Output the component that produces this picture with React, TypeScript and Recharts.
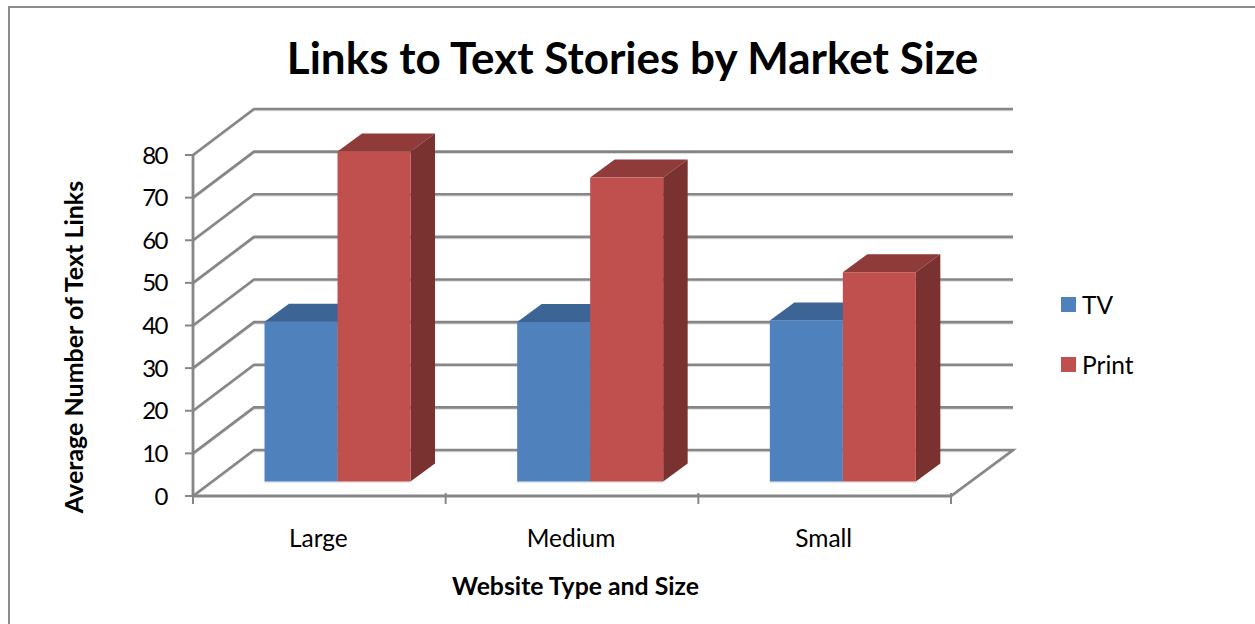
import { BarChart, Bar, XAxis, YAxis, CartesianGrid, Legend } from 'recharts';

const categories = ['Large', 'Medium', 'Small'];
const tvValues = [37.5, 37.4, 37.8];
const printValues = [77.4, 71.3, 49.1];
const yTicks = [0, 10, 20, 30, 40, 50, 60, 70, 80];

const chartData = categories.map((name, i) => ({ name, TV: tvValues[i], Print: printValues[i] }));

const FONT = 'Lato, sans-serif';
const LINE = '#868686';
const SHADOW = '#dcdcdc';

// depth of the back wall and of the bars, relative to the front plane
const WALL_DX = 61;
const WALL_DY = -46;
const BAR_SHIFT_X = 18.5;
const BAR_SHIFT_Y = -14.5;
const BAR_DX = 24.5;
const BAR_DY = -18;

const sideColors: Record<string, { top: string; side: string }> = {
  '#4f81bd': { top: '#3c6494', side: '#345a86' },
  '#c0504d': { top: '#8f3b39', side: '#7a3230' },
};

const Bar3D = (props: any) => {
  const { x, y, width, height, fill } = props;
  const left = x + BAR_SHIFT_X;
  const top = y + BAR_SHIFT_Y;
  const right = left + width;
  const bottom = top + height;
  const { top: topColor, side } = sideColors[fill];
  return (
    <g>
      <rect x={left} y={bottom} width={width} height={1.5} fill="#e4e4ea" />
      <polygon
        points={`${left},${top} ${left + BAR_DX},${top + BAR_DY} ${right + BAR_DX},${top + BAR_DY} ${right},${top}`}
        fill={topColor}
      />
      <polygon
        points={`${right},${top} ${right + BAR_DX},${top + BAR_DY} ${right + BAR_DX},${bottom + BAR_DY} ${right},${bottom}`}
        fill={side}
      />
      <rect x={left} y={top} width={width} height={height} fill={fill} />
    </g>
  );
};

// each grid line runs up the side wall, then across the back wall
const wallLine = (props: any) => {
  const { x1, y1, x2, y2, index } = props;
  const backLeft = x1 + WALL_DX;
  const backRight = x2 + WALL_DX + 1;
  const backY = y1 + WALL_DY;
  const isFloor = y1 >= 495;
  const path = `M${x1},${y1} L${backLeft},${backY} L${backRight},${backY}` + (isFloor ? ` L${x2},${y2}` : '');
  return (
    <g key={`wall-${index}`}>
      <path d={path} transform="translate(0,1.5)" fill="none" stroke={SHADOW} strokeWidth={1.5} />
      <path d={path} fill="none" stroke={LINE} strokeWidth={2.6} />
    </g>
  );
};

const CategoryTick = (props: any) => {
  const { x, y, payload, index, width } = props;
  const band = width / categories.length;
  return (
    <g>
      <line x1={x - band / 2} x2={x - band / 2} y1={y - 11} y2={y} stroke={LINE} strokeWidth={2} />
      {index === categories.length - 1 && (
        <line x1={x + band / 2} x2={x + band / 2} y1={y - 11} y2={y} stroke={LINE} strokeWidth={2} />
      )}
      <text x={x - 1} y={y + 43} textAnchor="middle" fontFamily={FONT} fontSize={24.5} fill="#000">
        {payload.value}
      </text>
    </g>
  );
};

const LegendBox = ({ payload }: any) => (
  <div style={{ fontFamily: FONT, fontSize: 24.5, color: '#000' }}>
    {(payload || []).map((item: any) => (
      <div key={item.value} style={{ display: 'flex', alignItems: 'center', height: 60 }}>
        <span style={{ width: 15, height: 15, background: item.color, marginRight: 6, display: 'inline-block' }} />
        {item.value}
      </div>
    ))}
  </div>
);

const App = () => (
  <div style={{ position: 'absolute', left: 0, top: 0, width: 1255, height: 624, overflow: 'hidden', background: '#fff' }}>
    <div
      style={{
        position: 'absolute',
        left: 8,
        top: 6,
        width: 1300,
        height: 700,
        borderLeft: '2px solid #8c8c8c',
        borderTop: '2px solid #8c8c8c',
      }}
    />
    <BarChart
      width={1255}
      height={624}
      data={chartData}
      margin={{ top: 155, right: 304, bottom: 88, left: 133 }}
      barCategoryGap={53}
      barGap={0}
      style={{ position: 'absolute', left: 0, top: 0 }}
    >
      <CartesianGrid vertical={false} horizontal={wallLine} />
      <XAxis
        dataKey="name"
        height={40}
        tick={CategoryTick}
        tickLine={false}
        axisLine={{ stroke: LINE, strokeWidth: 2.8 }}
      />
      <YAxis
        width={60}
        domain={[0, 80]}
        ticks={yTicks}
        interval={0}
        tick={{ fontFamily: FONT, fontSize: 24, fill: '#000', letterSpacing: -1.5 }}
        tickSize={8}
        tickMargin={18}
        tickLine={{ stroke: LINE, strokeWidth: 2 }}
        axisLine={{ stroke: LINE, strokeWidth: 2.8 }}
      />
      <Legend
        layout="vertical"
        align="center"
        verticalAlign="middle"
        itemSorter={null}
        content={<LegendBox />}
        wrapperStyle={{ left: 1061, top: 274, width: 120, bottom: 'auto' }}
      />
      <Bar dataKey="TV" fill="#4f81bd" shape={Bar3D} isAnimationActive={false} activeBar={false} />
      <Bar dataKey="Print" fill="#c0504d" shape={Bar3D} isAnimationActive={false} activeBar={false} />
      <text x={632.5} y={74} textAnchor="middle" fontFamily={FONT} fontWeight={700} fontSize={44} fill="#000">
        Links to Text Stories by Market Size
      </text>
      <text x={575.5} y={595} textAnchor="middle" fontFamily={FONT} fontWeight={700} fontSize={24.8} fill="#000">
        Website Type and Size
      </text>
      <text
        transform="translate(83,347) rotate(-90)"
        textAnchor="middle"
        fontFamily={FONT}
        fontWeight={700}
        fontSize={25}
        fill="#000"
      >
        Average Number of Text Links
      </text>
    </BarChart>
  </div>
);

export default App;
